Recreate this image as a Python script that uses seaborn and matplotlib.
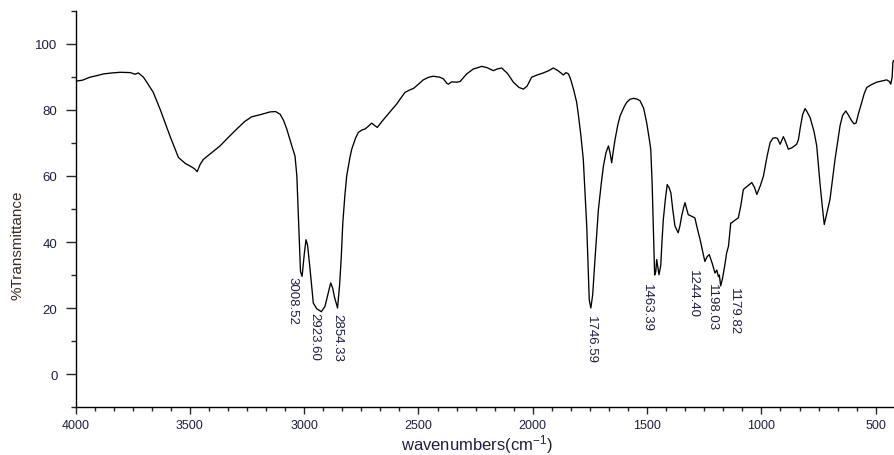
import numpy as np
import pandas as pd
import matplotlib
matplotlib.use("Agg")
import matplotlib.pyplot as plt
from matplotlib.ticker import MultipleLocator, AutoMinorLocator
import seaborn as sns

# spectrum (wavenumber cm-1, %T)
wavenumber = [
    4000, 3970, 3937, 3900, 3878, 3840, 3805, 3760, 3740, 3725, 3703, 3680, 3660,
    3630, 3587, 3550, 3520, 3499, 3480, 3468, 3455, 3441, 3400, 3368, 3330, 3295,
    3260, 3230, 3190, 3149, 3125, 3105, 3090, 3076, 3054, 3047, 3040, 3032, 3028,
    3022, 3016, 3009, 3000, 2992, 2985, 2974, 2960, 2945, 2925, 2909, 2895, 2884,
    2875, 2868, 2854, 2845, 2838, 2831, 2822, 2814, 2800, 2792, 2775, 2763, 2745,
    2734, 2720, 2705, 2690, 2680, 2660, 2639, 2615, 2595, 2575, 2559, 2540, 2522,
    2500, 2479, 2455, 2435, 2406, 2391, 2375, 2369, 2355, 2333, 2318, 2289, 2260,
    2245, 2223, 2200, 2173, 2155, 2136, 2110, 2085, 2060, 2041, 2025, 2005, 1980,
    1954, 1930, 1910, 1890, 1866, 1855, 1844, 1835, 1822, 1808, 1800, 1790, 1779,
    1764, 1753, 1746, 1738, 1728, 1713, 1700, 1691, 1680, 1669, 1662, 1655, 1648,
    1640, 1628, 1618, 1600, 1589, 1575, 1560, 1545, 1531, 1515, 1502, 1490, 1484,
    1478, 1473, 1467, 1462, 1458, 1454, 1448, 1440, 1435, 1429, 1420, 1412, 1404,
    1396, 1388, 1378, 1364, 1356, 1349, 1340, 1334, 1327, 1320, 1305, 1291, 1280,
    1268, 1255, 1247, 1238, 1228, 1215, 1203, 1195, 1188, 1184, 1178, 1170, 1160,
    1152, 1144, 1134, 1130, 1118, 1101, 1090, 1079, 1060, 1042, 1030, 1020, 1005,
    991, 975, 962, 950, 940, 930, 918, 904, 895, 882, 865, 846, 838, 831, 820, 809,
    800, 787, 770, 758, 744, 734, 725, 713, 700, 690, 678, 665, 656, 645, 631, 620,
    605, 595, 586, 575, 561, 550, 539, 520, 496, 470, 452, 440, 434, 428, 425, 422,
]
transmittance = [
    88.7, 89.0, 89.9, 90.5, 90.9, 91.2, 91.4, 91.3, 90.8, 91.2, 89.9, 87.5, 85.3,
    80.2, 72.1, 65.6, 63.8, 63.0, 62.2, 61.3, 63.5, 65.0, 67.3, 69.1, 71.8, 74.2,
    76.5, 77.9, 78.6, 79.4, 79.5, 78.7, 76.8, 74.2, 69.1, 67.5, 66.0, 60.0, 53.0,
    41.7, 31.0, 29.6, 36.0, 40.7, 39.0, 31.6, 21.5, 19.8, 18.9, 20.5, 24.5, 27.6,
    26.0, 23.5, 20.0, 27.0, 35.0, 45.8, 54.0, 60.0, 65.5, 68.1, 71.5, 73.2, 74.0,
    74.2, 75.0, 76.0, 75.2, 74.7, 76.5, 78.2, 80.2, 81.8, 83.8, 85.3, 86.0, 86.5,
    87.8, 89.1, 89.9, 90.2, 89.9, 89.4, 88.0, 87.8, 88.5, 88.4, 88.6, 90.9, 92.4,
    92.7, 93.2, 92.8, 91.9, 92.4, 92.7, 91.0, 88.4, 86.8, 86.3, 87.2, 89.9, 90.6,
    91.2, 91.9, 92.7, 91.9, 90.6, 91.3, 90.9, 89.4, 86.3, 82.3, 78.2, 72.5, 65.0,
    44.8, 22.5, 20.0, 24.0, 34.7, 49.8, 58.0, 63.0, 67.0, 69.1, 67.0, 64.0, 67.5,
    71.1, 75.5, 78.2, 81.0, 82.3, 83.2, 83.5, 83.3, 82.8, 80.5, 76.2, 71.0, 68.1,
    58.0, 44.8, 30.0, 31.0, 34.7, 33.0, 30.1, 33.0, 40.0, 46.8, 53.0, 57.4, 56.5,
    54.9, 50.0, 44.8, 42.8, 45.0, 47.8, 50.5, 51.9, 50.0, 48.3, 47.8, 47.3, 44.0,
    40.7, 36.5, 34.1, 35.5, 36.2, 33.5, 30.6, 31.5, 29.5, 30.0, 26.7, 29.0, 33.0,
    36.7, 38.7, 45.8, 45.8, 46.5, 47.3, 51.0, 55.9, 57.0, 58.0, 56.5, 54.4, 57.0,
    60.0, 66.0, 70.1, 71.4, 71.6, 71.4, 69.6, 71.9, 70.5, 68.1, 68.6, 69.6, 71.0,
    74.2, 78.5, 80.4, 79.4, 77.7, 73.5, 69.1, 58.0, 51.0, 45.3, 49.0, 52.9, 58.5,
    65.0, 71.0, 75.2, 78.3, 79.7, 78.5, 76.7, 75.8, 76.0, 79.0, 82.3, 85.0, 86.8,
    87.6, 88.4, 88.8, 89.1, 88.6, 87.8, 90.0, 94.4, 95.0,
]

# labelled peaks
peak_labels = ["3008.52", "2923.60", "2854.33", "1746.59", "1463.39", "1244.40", "1198.03", "1179.82"]
peak_wn = [3008.52, 2923.60, 2854.33, 1746.59, 1463.39, 1244.40, 1198.03, 1179.82]
peak_T = [29.6, 18.9, 20.0, 20.0, 30.0, 34.1, 31.0, 26.7]
# label offsets in pixels (dx, dy) to keep labels apart
label_offsets = [(-10, 0), (-7, 0), (0, -5), (0, -7), (-9, -8), (-13, -8), (-4, -11), (14, -1)]

df = pd.DataFrame({"wavenumber": wavenumber, "transmittance": transmittance})

sns.set_style("ticks")
plt.rcParams["font.family"] = ["Liberation Sans", "DejaVu Sans"]
plt.rcParams["mathtext.fontset"] = "custom"
plt.rcParams["mathtext.rm"] = "Liberation Sans"
plt.rcParams["mathtext.it"] = "Liberation Sans"

text_col = "#1e1e44"

fig = plt.figure(figsize=(8.94, 4.56), dpi=100)
ax = fig.add_axes([0.0845, 0.105, 0.9155, 0.869])

sns.lineplot(data=df, x="wavenumber", y="transmittance", ax=ax,
             color="black", linewidth=0.95, estimator=None, sort=True)

ax.set_xlim(4000, 420)
ax.set_ylim(-10, 110)
ax.xaxis.set_major_locator(MultipleLocator(500))
ax.xaxis.set_minor_locator(AutoMinorLocator(6))
ax.yaxis.set_major_locator(MultipleLocator(20))
ax.yaxis.set_minor_locator(MultipleLocator(10))

sns.despine(ax=ax)
for side in ["left", "bottom"]:
    ax.spines[side].set_linewidth(1.0)
    ax.spines[side].set_color("black")

ax.tick_params(axis="x", which="major", direction="out", length=5, width=1.0,
               pad=3.5, labelsize=9, labelcolor=text_col)
ax.tick_params(axis="x", which="minor", direction="out", length=3, width=1.0)
ax.tick_params(axis="y", which="major", direction="out", length=7, width=1.0,
               pad=6, labelsize=9.5, labelcolor=text_col)
ax.tick_params(axis="y", which="minor", direction="out", length=3.5, width=1.0)

ax.set_xlabel("wavenumbers(cm$^{-1}$)", fontsize=12, color=text_col, labelpad=0)
ax.xaxis.set_label_coords(0.49, -0.063, transform=ax.transAxes)
ax.xaxis.label.set_va("top")
ax.set_ylabel("%Transmittance", fontsize=11, color="#3a2a22")
ax.yaxis.set_label_coords(-0.062, 0.41)

for lab, xw, yt, (dx, dy) in zip(peak_labels, peak_wn, peak_T, label_offsets):
    ax.annotate(lab, xy=(xw, yt), xytext=(dx, dy), textcoords="offset pixels",
                rotation=270, ha="center", va="top", fontsize=9.5, color=text_col)

fig.savefig("out.png", dpi=100)
